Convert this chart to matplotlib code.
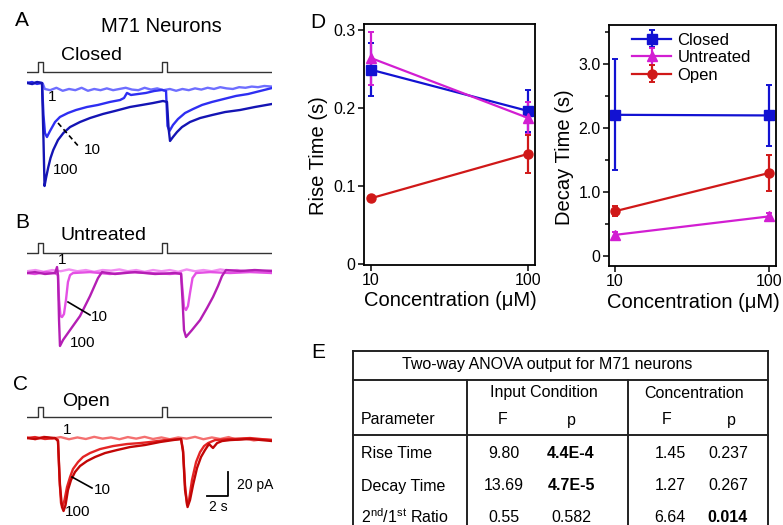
import matplotlib.pyplot as plt
from matplotlib.lines import Line2D
from matplotlib.ticker import NullLocator, FixedLocator

plt.rcParams['font.family'] = ['Liberation Sans', 'DejaVu Sans']
plt.rcParams['mathtext.fontset'] = 'custom'
plt.rcParams['mathtext.rm'] = 'Liberation Sans'
plt.rcParams['mathtext.bf'] = 'Liberation Sans:bold'

W, H = 783, 525

# ---------- traces: time (s) / current (pA) ----------
t_end = 23.33
stim_on = [1.05, 12.86]
stim_len = 0.47

# A, closed
a1_t = [0, 0.5, 1.0, 1.5, 1.7, 2.2, 2.8, 3.4, 4.0, 4.6, 5.2, 5.8, 6.4, 7.0, 7.6, 8.2, 8.8, 9.4, 10.0, 10.6,
        11.2, 11.8, 12.4, 13.0, 13.6, 14.2, 14.8, 15.4, 16.0, 16.6, 17.2, 17.8, 18.4, 19.0, 19.6, 20.2,
        20.8, 21.4, 22.0, 22.6, 23.33]
a1_i = [0.5, -1, 0.8, -0.5, -5, -6, -4, -6.5, -5, -6, -4, -6.5, -5, -6, -4.5, -6, -5, -4, -5.5, -6, -4,
        -5.5, -4.5, -6, -5, -6.5, -5, -6, -4.5, -5.5, -4, -5, -3.5, -4.5, -5, -3.5, -4, -3, -3.5, -2.5, -3]
a10_t = [0, 0.48, 0.95, 1.43, 1.57, 1.71, 1.90, 2.19, 2.67, 3.14, 3.90, 4.67, 5.71, 6.76, 7.90, 8.86, 9.24,
         9.52, 9.90, 10.57, 11.33, 12.10, 12.86, 13.24, 13.38, 13.57, 13.90, 14.38, 15.05, 15.81, 16.67,
         17.62, 18.76, 19.90, 21.05, 22.19, 23.33]
a10_i = [0, 0.8, -0.8, 0, -26.7, -41.7, -45, -40, -32.5, -28.3, -25, -22.5, -20, -18.3, -15.8, -14.2, -12.5,
         -8.3, -10, -9.2, -8.3, -6.7, -5.8, -6.7, -35.8, -40, -35, -30, -25, -21.7, -18.3, -15.8, -13.3,
         -10.8, -9.2, -6.7, -4.2]
a100_t = [0, 0.48, 0.95, 1.43, 1.57, 1.67, 1.81, 2.03, 2.24, 2.50, 2.95, 3.46, 4.10, 5.05, 6.00, 7.24, 8.38,
          9.81, 10.95, 12.00, 12.95, 13.33, 13.48, 13.62, 13.90, 14.29, 14.76, 15.52, 16.48, 17.62, 18.86,
          20.29, 21.71, 23.33]
a100_i = [0, -0.8, 0.8, 0, -47.5, -85.8, -79.2, -70, -62.5, -55.8, -47.5, -41.7, -36.7, -32.5, -29.2, -25.8,
          -23.3, -20, -18.3, -16.7, -15, -15.8, -37.5, -48.3, -45, -40.8, -36.7, -32.5, -29.2, -26.7, -24.2,
          -22.5, -20, -17.5]

# B, untreated
b1_t = [0, 0.8, 1.6, 2.4, 3.2, 4.0, 4.8, 5.6, 6.4, 7.2, 8.0, 8.8, 9.6, 10.4, 11.2, 12.0, 12.8, 13.6, 14.4,
        15.2, 16.0, 16.8, 17.6, 18.4, 19.2, 20.0, 20.8, 21.6, 22.4, 23.33]
b1_i = [1.5, 2.5, 1, 2.5, 1.5, 3, 1.5, 2.5, 1, 2.5, 2, 3, 1.5, 2.5, 1, 2.5, 1.5, 2.5, 1, 3, 1.5, 2.5, 1.5,
        3, 2, 2.5, 1.5, 2.5, 1.5, 2]
b10_t = [0, 0.76, 1.71, 2.67, 2.95, 3.05, 3.19, 3.33, 3.52, 3.71, 3.90, 4.10, 4.38, 6.00, 7.90, 9.81, 11.71,
         13.62, 14.67, 14.81, 14.95, 15.14, 15.33, 15.52, 15.76, 16.10, 17.43, 19.33, 21.24, 23.33]
b10_i = [0, -0.8, 0.8, 0, -1.7, -22.5, -35.8, -36.7, -34.2, -22.5, -7.5, -1.7, 0, 0.8, -0.8, 0.8, 0, -0.8,
         0, -14.2, -28.3, -30.8, -27.5, -16.7, -4.2, 0, 0.8, 0, 0.8, 0]
b100_t = [0, 0.76, 1.71, 2.67, 2.86, 2.95, 3.05, 3.14, 3.43, 4.10, 5.05, 6.00, 6.76, 7.14, 8.38, 10.29, 12.19,
          14.10, 14.67, 14.81, 14.95, 15.14, 15.71, 16.48, 17.14, 17.71, 18.19, 18.57, 18.95, 20.29, 21.71,
          23.33]
b100_i = [0, 0.8, -0.8, 0, 5, -1.7, -39.2, -60.8, -55.8, -47.5, -35.8, -19.2, -4.2, 0.8, -0.8, 0.8, -0.8, 0,
          -0.8, -22.5, -47.5, -53.3, -47.5, -39.2, -29.2, -20, -10.8, -2.5, 2.5, 1.7, 2.5, 1.7]

# C, open
c1_t = b1_t
c1_i = [0.5, -1, 1, -0.5, 0.8, -1, 0.5, -0.8, 1, -0.5, 0.5, -1, 0.8, -0.5, 1, -0.8, 0.5, -1, 0.5, -0.5,
        1, -1, 0.5, -0.8, 0.8, -1.5, -0.5, -2, -1, -1.5]
c10_t = [0, 0.76, 1.71, 2.67, 2.95, 3.10, 3.24, 3.38, 3.57, 3.81, 4.10, 4.38, 4.86, 5.33, 6.00, 6.95, 8.19,
         9.52, 10.76, 11.71, 13.14, 14.67, 14.86, 15.05, 15.24, 15.43, 15.71, 16.10, 16.48, 16.86, 17.24,
         17.90, 19.33, 21.24, 23.33]
c10_i = [0, 0.8, -0.8, 0, -1.7, -35, -54.2, -57.5, -51.7, -40.8, -32.5, -25.8, -20, -15.8, -12.5, -9.2,
         -6.7, -5, -4.2, -3.3, -1.7, -0.8, -10, -39.2, -55.8, -51.7, -35, -20, -11.7, -6.7, -4.2, -1.7,
         -0.8, 0, -1.7]
c100_t = [0, 0.76, 1.71, 2.67, 2.95, 3.14, 3.33, 3.48, 3.67, 3.90, 4.19, 4.57, 5.05, 5.71, 6.48, 7.43, 8.57,
          9.81, 11.24, 12.67, 13.90, 14.67, 14.86, 15.05, 15.29, 15.52, 15.81, 16.19, 16.57, 16.95, 17.33,
          17.71, 18.10, 18.57, 19.33, 21.24, 23.33]
c100_i = [0, -0.8, 0.8, 0, -2.5, -39.2, -57.5, -60.8, -55.8, -43.3, -35, -28.3, -23.3, -19.2, -15.8, -12.5,
          -10, -7.5, -5.8, -3.3, -1.7, -0.8, -11.7, -43.3, -57.5, -51.7, -39.2, -25, -15.8, -10, -5, -8.3,
          -4.2, -2.5, -1.7, -0.8, -2.5]

# ---------- D: kinetics vs concentration ----------
conc = [10, 100]
groups = ['Closed', 'Untreated', 'Open']
rise = {'Closed': [0.249, 0.196], 'Untreated': [0.264, 0.187], 'Open': [0.084, 0.141]}
rise_err = {'Closed': [0.034, 0.027], 'Untreated': [0.034, 0.021], 'Open': [0.003, 0.024]}
decay = {'Closed': [2.21, 2.20], 'Untreated': [0.33, 0.62], 'Open': [0.70, 1.30]}
decay_err = {'Closed': [0.87, 0.48], 'Untreated': [0.04, 0.06], 'Open': [0.08, 0.28]}
colors = {'Closed': '#1212d2', 'Untreated': '#d21ed2', 'Open': '#d01818'}
markers = {'Closed': 's', 'Untreated': '^', 'Open': 'o'}

# ---------- E: ANOVA table ----------
tbl_title = 'Two-way ANOVA output for M71 neurons'
tbl_params = ['Rise Time', 'Decay Time', r'2$^{\rm nd}$/1$^{\rm st}$ Ratio']
tbl_cond_F = ['9.80', '13.69', '0.55']
tbl_cond_p = ['4.4E-4', '4.7E-5', '0.582']
tbl_conc_F = ['1.45', '1.27', '6.64']
tbl_conc_p = ['0.237', '0.267', '0.014']
cond_sig = [True, True, False]
conc_sig = [False, False, True]

fig = plt.figure(figsize=(W / 100, H / 100), dpi=100)


def px_axes(x0, y0, x1, y1):
    return fig.add_axes([x0 / W, 1 - y1 / H, (x1 - x0) / W, (y1 - y0) / H])


def ptext(x, y, s, **kw):
    kw.setdefault('ha', 'center')
    kw.setdefault('va', 'center')
    fig.text(x / W, 1 - y / H, s, **kw)


def pline(x0, y0, x1, y1, **kw):
    fig.add_artist(Line2D([x0 / W, x1 / W], [1 - y0 / H, 1 - y1 / H], transform=fig.transFigure, **kw))


def trace_panel(box, ylim, stim_level, traces):
    ax = px_axes(*box)
    ax.set_xlim(0, t_end)
    ax.set_ylim(*ylim)
    ax.axis('off')
    xs, ys = [0], [stim_level]
    for s in stim_on:
        xs += [s, s, s + stim_len, s + stim_len]
        ys += [stim_level, stim_level + 8.3, stim_level + 8.3, stim_level]
    xs.append(t_end)
    ys.append(stim_level)
    ax.plot(xs, ys, color='#333333', lw=1.0)
    for t, i, c in traces:
        ax.plot(t, i, color=c, lw=1.7, solid_joinstyle='round')
    return ax


# panel A
trace_panel((27, 55, 272, 195), (-93.3, 23.3), 9.2,
            [(a1_t, a1_i, '#6e6eff'), (a10_t, a10_i, '#2e2ef2'), (a100_t, a100_i, '#1414b4')])
ptext(22, 21, 'A', fontsize=15)
ptext(161, 27, 'M71 Neurons', fontsize=14.5)
ptext(91, 56, 'Closed', fontsize=14)
ptext(52, 97, '1', fontsize=11)
ptext(92, 150, '10', fontsize=11)
ptext(66, 170, '100', fontsize=11)
pline(58, 123, 80, 148, color='black', lw=1.2, ls=(0, (3, 2)))

# panel B
trace_panel((27, 235, 272, 355), (-68.3, 31.7), 16.7,
            [(b1_t, b1_i, '#f28cf2'), (b10_t, b10_i, '#e450e4'), (b100_t, b100_i, '#b41eb4')])
ptext(22, 223, 'B', fontsize=15)
ptext(103, 235, 'Untreated', fontsize=14)
ptext(62, 260, '1', fontsize=11)
ptext(99, 317, '10', fontsize=11)
ptext(83, 343, '100', fontsize=11)
pline(68, 302, 90, 315, color='black', lw=1.2)

# panel C
axc = trace_panel((27, 400, 272, 520), (-68.3, 31.7), 17.5,
                  [(c1_t, c1_i, '#f47070'), (c10_t, c10_i, '#e42424'), (c100_t, c100_i, '#c20606')])
axc.plot([17.14, 19.14, 19.14], [-48.3, -48.3, -28.3], color='black', lw=1.3)
ptext(20, 385, 'C', fontsize=15)
ptext(86, 402, 'Open', fontsize=14)
ptext(67, 430, '1', fontsize=11)
ptext(102, 490, '10', fontsize=11)
ptext(78, 512, '100', fontsize=11)
pline(72, 477, 92, 488, color='black', lw=1.2)
ptext(237, 485, '20 pA', fontsize=10, ha='left')
ptext(218, 507, '2 s', fontsize=10)


# panel D
def kin_axes(box, data, err, xlim, ylim, yticks, ylabels, minor=None):
    ax = px_axes(*box)
    for g in groups:
        eb = ax.errorbar(conc, data[g], yerr=err[g], color=colors[g], marker=markers[g], ms=6.5, lw=1.6,
                         elinewidth=1.6, capsize=2, capthick=1.4, label=g)
        for art in eb.get_children():
            art.set_clip_on(False)
    ax.set_xscale('log')
    ax.set_xlim(*xlim)
    ax.set_ylim(*ylim)
    ax.xaxis.set_major_locator(FixedLocator(conc))
    ax.xaxis.set_minor_locator(NullLocator())
    ax.set_xticklabels([str(c) for c in conc])
    ax.set_yticks(yticks)
    ax.set_yticklabels(ylabels)
    if minor is not None:
        ax.yaxis.set_minor_locator(FixedLocator(minor))
    ax.tick_params(which='both', direction='out', labelsize=11.5, length=4, width=1.1, pad=2)
    ax.tick_params(which='minor', length=3)
    for s in ax.spines.values():
        s.set_linewidth(1.3)
    return ax


kin_axes((364, 24, 535, 265), rise, rise_err, (9.03, 110.5), (-0.0017, 0.3077),
         [0, 0.1, 0.2, 0.3], ['0', '0.1', '0.2', '0.3'])
axd2 = kin_axes((609, 25, 776, 266), decay, decay_err, (9.16, 110.5), (-0.157, 3.616),
                [0, 1, 2, 3], ['0', '1.0', '2.0', '3.0'], minor=[0.5, 1.5, 2.5, 3.5])
axd2.legend(loc='upper left', bbox_to_anchor=(0.08, 1.01), frameon=False, fontsize=12,
            handlelength=2.3, labelspacing=0.15, handletextpad=0.4, borderaxespad=0.2)
ptext(318, 22, 'D', fontsize=15)
ptext(319, 156, 'Rise Time (s)', fontsize=14.5, rotation=90)
ptext(565, 157, 'Decay Time (s)', fontsize=14.5, rotation=90)
ptext(450, 300, 'Concentration (\u03bcM)', fontsize=14.5)
ptext(693, 302, 'Concentration (\u03bcM)', fontsize=14.5)

# panel E table
ptext(318, 353, 'E', fontsize=15)
lw_t = 1.4
pline(353, 351, 768, 351, color='#222222', lw=lw_t)
pline(353, 351, 353, 540, color='#222222', lw=lw_t)
pline(768, 351, 768, 540, color='#222222', lw=lw_t)
pline(353, 380, 768, 380, color='#222222', lw=lw_t)
pline(353, 435, 768, 435, color='#222222', lw=lw_t)
pline(467, 380, 467, 540, color='#222222', lw=lw_t)
pline(628, 380, 628, 540, color='#222222', lw=lw_t)
fs = 11.5
ptext(547, 365, tbl_title, fontsize=fs)
ptext(544, 393, 'Input Condition', fontsize=fs)
ptext(694, 393, 'Concentration', fontsize=fs)
ptext(361, 420, 'Parameter', fontsize=fs, ha='left')
for x, s in zip([503, 571, 667, 731], ['F', 'p', 'F', 'p']):
    ptext(x, 420, s, fontsize=fs)
row_y = [453, 486, 517]
for k, y in enumerate(row_y):
    ptext(361, y, tbl_params[k], fontsize=fs, ha='left')
    ptext(504, y, tbl_cond_F[k], fontsize=fs)
    ptext(571, y, tbl_cond_p[k], fontsize=fs, weight='bold' if cond_sig[k] else 'normal')
    ptext(670, y, tbl_conc_F[k], fontsize=fs)
    ptext(728, y, tbl_conc_p[k], fontsize=fs, weight='bold' if conc_sig[k] else 'normal')

fig.savefig('out.png', dpi=100)
